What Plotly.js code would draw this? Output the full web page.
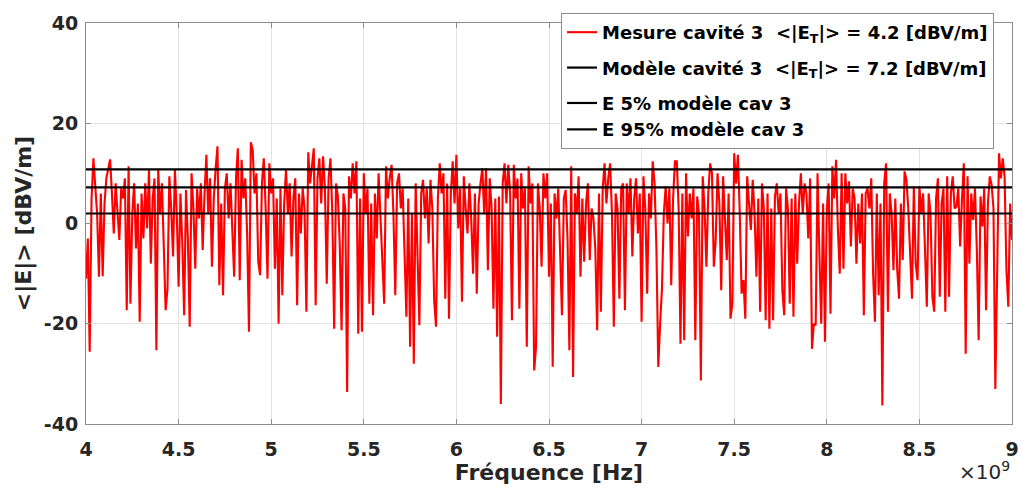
<!DOCTYPE html>
<html><head><meta charset="utf-8">
<script src="https://cdn.plot.ly/plotly-3.0.1.min.js"></script>
<style>html,body{margin:0;padding:0;background:#fff}#chart{width:1022px;height:498px}</style>
</head><body><div id="chart"></div>
<script>
// Frequency sweep (Hz)
const freqStartHz = 4e9;
const freqStepHz = 1e7;
const measuredDbVm = [
// 4.00 - 4.46
-11, -3, -25.6, 5, 13, 8, 2, -10.6, 6, -10.5, 4, 9, 11, 12.8, 6, -2, 8, 3, -3.3, 7, 5, 9, -17.3, 11.4, -16, 2, 8, -5, 4, -19.6, 6, -3, 8, -1, 10.7, -8, 5, 9, -25.3, 10.7, 2, 8, -6, -17.3, -13, 9.4, 3,
// 4.47 - 4.95
-6.6, 10.7, 2, -12.6, 6, -4, -18.3, 6.7, -3, -20.6, 10, 3, -9, 7, 1, 8, -5.3, 6, 13.7, 2, 9, -8.6, 5, 11, 15.4, -12.3, 4, -14.3, 7, 10, 1, 8, -3, -10.6, 9, 15, -11.3, 12.7, 5, 9, -2, -21.6, 16.2, 14.7, 6, 10, -7.6, -10.3, 8,
// 4.96 - 5.44
13, 3, -11, 12, 6, 9, -9, 5, -20, 7, -14.3, 4, 10.7, 2, 8, -6.6, 5, 9, -16.3, 6, -2, 7, 3, -17.6, 14.2, 8, 11, 15, -16.3, 9, 13, 4, 13.4, 7, -12, 9, 13, 2, -21, 8, 5.4, -4, -21.3, 6, 3, -33.6, 9.4, 5, 12,
// 5.45 - 5.93
6, 12.4, -22, 5, -21.6, 10, 2, 7, -16, 4, -18.3, 6, -3, 10, 1, -8, -16, 11.4, 5, 9, 11.7, 2, -14.3, 8, 10, 3, 7, -6, -18.6, 5, -24.6, 2, -28, 8, -5, -20.3, 6, 8.7, 1, 7, -4, 8.7, 3, -15.3, -20.6, 5, 12, 6, 10,
// 5.94 - 6.42
-15, 8, -19, 6, 12.4, 4, 13.7, -1, 7, -15.6, 9.4, 3, -2, 8, 1, -10, 6, -14, 4, 8, 11, 2, 11, -9.3, 9, 3, -17, 5, -22.6, 5.4, -36, 8, 12, 4, 11.7, 6, -19.3, 11.7, 5, 9, -17, 10, 3, 7, -24.6, 11.4, 4, 8, -29.3,
// 6.43 - 6.90
-24.6, 8, 3, -8.6, 10, 5, 10, -10.6, 4, -28.6, 6, 1, 7, -4, -18.3, 5, 6.7, -3, -25.3, 11.4, -30.6, 6, 2, 9.4, -10.6, 5, -7.6, 4, 8, -7.3, 3, 1, -5, -21.3, 6, -17.6, 7, 12, 4, 9, 12, 2, -20.6, 6, 3, -15, 7, 8,
// 6.91 - 7.38
-17.3, 8, 2, 9, -6.6, 5, 9, -2, 6, -19.6, 9.4, 3, -14, 6, 1, 12.4, 8, -5, -28.6, -20, -13, 2, 7.4, 0, 7, -12.3, 5, 12.4, 12.4, 3, -24, 6, -23.3, 10, -2.6, 6, 1, 7, -23.3, 5.4, 2, -31.3, 9.4, 3, -8.6, 6, 12, 10,
// 7.39 - 7.88
-8.6, -3.4, 10, 4, -13.3, 9.4, 2, -7.3, 6, -19, -16, 14, 8, 13.7, 2, -14, -11.3, -19, 9.4, 4, -1.3, 8.7, 2, -10.6, 5, -17.6, 8, 3, -19.3, 6, -21, 3, -19.3, 5.4, 8, 2, 6, -13.3, -18.3, 7, 3, -16, 5, -18.6, 6, -8, 4, 10, 2, 8,
// 7.89 - 8.36
6, -3, 9, -25, -20, -20.3, 10, -6, -20, 4, -23.6, 2.7, 8, -18, 11.4, 5, 12.7, -1.3, -10, 10, -9, 10, 4, 8.4, -4.6, 7, 5, -8, 4, -4, 6, -18.3, 6, 7, 3, 9, -10, -19.6, 6, -14.3, 4, -36.3, 8, 12, -17.6, 6, 2, -9.3,
// 8.37 - 9.00
5, -9, -15, 4, -7.3, 10.4, 8.7, 3, -6, -15, 7.4, -8, -11.3, 7.4, 2, 6, -5, -16.6, 6, 2, -14.6, -17.6, 5, 9, -14.6, 4, 7, -17.6, 9.4, -14.6, 6, 9.4, 3, 3.4, 7, -4.6, 5, 12, -26, 9.4, -8, 6, 0.7, 7, -5, -23.3, 5.4, -0.6, 7, -17.3, 4, 9.4, 7.7, 3, -33, -6, 14, 9, 13, 9.4, -9.3, -16.6, 4, -3.3
];
const measuredName = 'Mesure cavité 3&#160;&#160;&lt;|E<sub>T</sub>|&gt; = 4.2 [dBV/m]';
// Model reference levels (dBV/m)
const refNames = ['Modèle cavité 3&#160;&#160;&lt;|E<sub>T</sub>|&gt; = 7.2 [dBV/m]', 'E 5% modèle cav 3', 'E 95% modèle cav 3'];
const refLevels = [7.2, 2.0, 10.8];
const refGroups = ['b', 'c', 'c'];
const xRangeHz = [4e9, 9e9];
const xTickVals = [4e9, 4.5e9, 5e9, 5.5e9, 6e9, 6.5e9, 7e9, 7.5e9, 8e9, 8.5e9, 9e9];
const xTickText = ['4', '4.5', '5', '5.5', '6', '6.5', '7', '7.5', '8', '8.5', '9'];
const yRange = [-40, 40];
const yTickVals = [-40, -20, 0, 20, 40];
const yTickText = ['-40', '-20', '0', '20', '40'];

const freqHz = measuredDbVm.map((_, i) => freqStartHz + i * freqStepHz);

const FONT = 'DejaVu Sans';
const traces = [{
  type: 'scatter', mode: 'lines', x: freqHz, y: measuredDbVm,
  name: measuredName, legendgroup: 'a',
  line: {color: '#ff0000', width: 2.1}
}];
refLevels.forEach((v, i) => traces.push({
  type: 'scatter', mode: 'lines', x: xRangeHz, y: [v, v],
  name: refNames[i], legendgroup: refGroups[i],
  line: {color: '#000000', width: 2.2}
}));

const layout = {
  width: 1022, height: 498,
  margin: {l: 86, r: 10, t: 23, b: 74},
  paper_bgcolor: '#ffffff', plot_bgcolor: '#ffffff',
  font: {family: FONT, size: 18, color: '#262626', weight: 'bold'},
  showlegend: true,
  legend: {
    x: 0.513, y: 1.025, xanchor: 'left', yanchor: 'top',
    bgcolor: '#ffffff', bordercolor: '#8c8c8c', borderwidth: 1,
    font: {family: FONT, size: 18, color: '#000000', weight: 'bold'},
    tracegroupgap: 9, traceorder: 'grouped'
  },
  xaxis: {
    range: xRangeHz, tickvals: xTickVals, ticktext: xTickText,
    showgrid: true, gridcolor: '#e3e3e3', gridwidth: 1, zeroline: false,
    showline: true, linecolor: '#8c8c8c', linewidth: 1, mirror: 'ticks',
    ticks: 'inside', ticklen: 5, tickcolor: '#8c8c8c', ticklabelstandoff: 8,
    tickfont: {family: FONT, size: 19, color: '#262626', weight: 'bold'},
    title: {text: 'Fréquence [Hz]', font: {family: FONT, size: 22, color: '#262626', weight: 'bold'}, standoff: 2}
  },
  yaxis: {
    range: yRange, tickvals: yTickVals, ticktext: yTickText,
    showgrid: true, gridcolor: '#e3e3e3', gridwidth: 1, zeroline: false,
    showline: true, linecolor: '#8c8c8c', linewidth: 1, mirror: 'ticks',
    ticks: 'inside', ticklen: 5, tickcolor: '#8c8c8c', ticklabelstandoff: 3,
    tickfont: {family: FONT, size: 19, color: '#262626', weight: 'bold'},
    title: {text: '&lt;|E|&gt; [dBV/m]', font: {family: FONT, size: 22, color: '#262626', weight: 'bold'}, standoff: 6}
  },
  annotations: [{
    xref: 'paper', yref: 'paper', x: 1.0, y: -0.08, xanchor: 'right', yanchor: 'top',
    text: '×10<sup>9</sup>', showarrow: false,
    font: {family: FONT, size: 20, color: '#262626', weight: 'normal'}
  }]
};

Plotly.newPlot('chart', traces, layout, {displayModeBar: false, staticPlot: true});
</script>
</body></html>
